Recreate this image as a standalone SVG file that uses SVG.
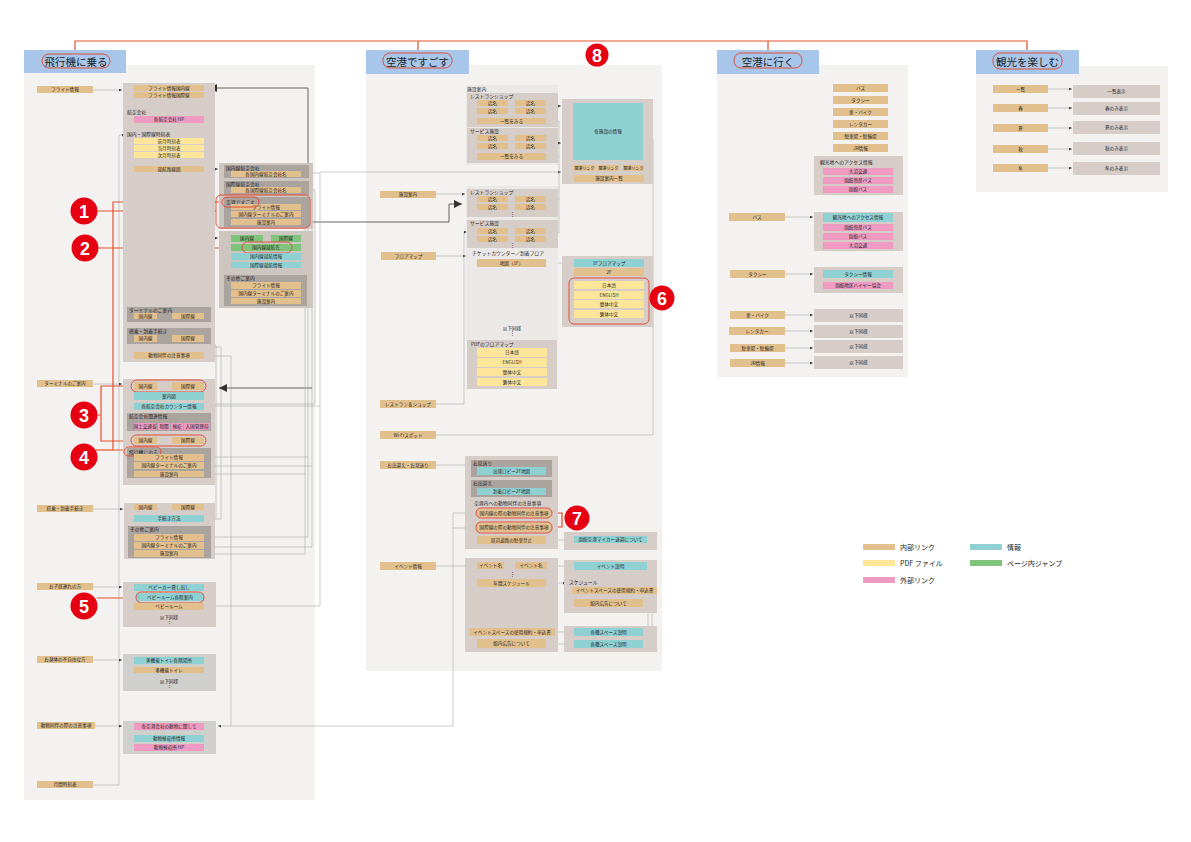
<svg xmlns="http://www.w3.org/2000/svg" width="1191" height="842" viewBox="0 0 1191 842">
<style>
.t{fill:#e2c08d}.c{fill:#8fd0d3}.y{fill:#fde69a}.p{fill:#ee9ac1}.g{fill:#7fc47a}
.b{fill:#d6cdc9}.d{fill:#aba39e}.s{fill:#cdc5c0}.gr{fill:#cfcfcc}.lt{fill:#ebe9e7}.pn{fill:#f3f2f1}.hd{fill:#a8c6e9}
text{font-family:"Noto Sans CJK JP","Noto Sans",sans-serif;fill:#222}
.x{font-size:4.6px;text-anchor:middle}
.l{font-size:4.8px}
.h{font-size:10.5px;text-anchor:middle}
.lg{font-size:7px}
.rc{fill:none;stroke:#e3412b;stroke-width:0.9}
.ln{fill:none;stroke:#a9a9a9;stroke-width:0.6}
.dk{fill:none;stroke:#555;stroke-width:0.9}
.or{fill:none;stroke:#e4502e;stroke-width:1.2}
.nc{fill:#e50012}
.nt{fill:#fff;font-family:"Liberation Sans",sans-serif;font-weight:bold;font-size:18px;text-anchor:middle}
</style>
<defs>
<marker id="a" viewBox="0 0 6 6" refX="6" refY="3" markerWidth="3" markerHeight="3" markerUnits="userSpaceOnUse" orient="auto"><path d="M0,0 L6,3 L0,6 z" fill="#444"/></marker>
<marker id="A" viewBox="0 0 6 6" refX="6" refY="3" markerWidth="8" markerHeight="8" markerUnits="userSpaceOnUse" orient="auto"><path d="M0,0 L6,3 L0,6 z" fill="#333"/></marker>
</defs>
<rect width="1191" height="842" fill="#fff"/>

<!-- panels -->
<rect class="pn" x="24" y="65" width="291" height="735"/>
<rect class="pn" x="366" y="65" width="296" height="606"/>
<rect class="pn" x="717" y="65" width="191" height="312"/>
<rect class="pn" x="976" y="66" width="192" height="126"/>

<!-- top orange hierarchy -->
<path class="or" d="M75 50 V41 H1027 V50 M418 41 V50 M768 41 V50"/>

<!-- headers -->
<g id="h1"><rect class="hd" x="24" y="50" width="102" height="23"/><text class="h" x="76" y="65.5">飛行機に乗る</text><rect class="rc" x="42" y="54" width="68" height="14" rx="7"/></g>
<g id="h2"><rect class="hd" x="366" y="50" width="103" height="24"/><text class="h" x="417.5" y="65.5">空港ですごす</text><rect class="rc" x="383" y="53" width="69" height="15" rx="7"/></g>
<g id="h3"><rect class="hd" x="717" y="50" width="102" height="24"/><text class="h" x="768" y="65.5">空港に行く</text><rect class="rc" x="734" y="53" width="68" height="15" rx="7"/></g>
<g id="h4"><rect class="hd" x="976" y="50" width="103" height="24"/><text class="h" x="1027.5" y="65.5">観光を楽しむ</text><rect class="rc" x="993" y="53" width="69" height="16" rx="7"/></g>

<!-- connectors -->
<g id="connectors">
<path class="ln" d="M93 90 H122" marker-end="url(#a)"/>
<path class="ln" d="M93 785 H119 V135 H125" marker-end="url(#a)"/>
<path class="ln" d="M93 384 H122" marker-end="url(#a)"/>
<path class="ln" d="M93 509 H123" marker-end="url(#a)"/>
<path class="ln" d="M93 587 H122" marker-end="url(#a)"/>
<path class="ln" d="M93 660 H122" marker-end="url(#a)"/>
<path class="ln" d="M95 726 H122" marker-end="url(#a)"/>
<path class="ln" d="M204 169 H218" marker-end="url(#a)"/>
<path class="ln" d="M204 238 H218" marker-end="url(#a)"/>
<path class="ln" d="M150 342 V347 H221 V519 H206" marker-end="url(#a)"/>
<path class="ln" d="M186 342 V345 H216 V519"/>
<path class="ln" d="M145 510 V514 M188 510 V514"/>
<path class="ln" d="M204 356 H231 V726"/>
<path class="ln" d="M477 513 H453 V726 H218" marker-end="url(#a)"/>
<path class="ln" d="M453 528 H477"/>
<path class="ln" d="M308 207 V537 M204 457 H308 M204 537 H308 M301 285 H308"/>
<path class="dk" d="M301 207 H308 V88 H209" marker-end="url(#A)"/>
<path class="ln" d="M301 214 H312 V547 M301 293 H312 M204 466 H312 M204 547 H312"/>
<path class="dk" d="M312 388 H219" marker-end="url(#A)"/>
<path class="ln" d="M305 222 V554 M301 301 H305 M204 474 H305 M204 554 H305"/>
<path class="dk" d="M301 222 H449 V204 H462" marker-end="url(#A)"/>
<path class="ln" d="M301 173 H320 V606 H204 M301 190 H315 V404 H204 M204 406 H320"/>
<path class="ln" d="M320 172 H559"/>
<path class="ln" d="M559 172 H561" marker-end="url(#a)"/>
<path class="ln" d="M546 121 H559 V233 H546 M546 157 H559 M546 199 H559"/>
<path class="ln" d="M546 106 H561" marker-end="url(#a)"/>
<path class="ln" d="M546 143 H561" marker-end="url(#a)"/>
<path class="ln" d="M436 194 H465" marker-end="url(#a)"/>
<path class="ln" d="M436 256 H466" marker-end="url(#a)"/>
<path class="ln" d="M436 404 H464 V232 H467" marker-end="url(#a)"/>
<path class="ln" d="M546 263 H572" marker-end="url(#a)"/>
<path class="ln" d="M436 435 H653 V139 H645" marker-end="url(#a)"/>
<path class="ln" d="M436 465 H469" marker-end="url(#a)"/>
<path class="ln" d="M436 566 H469" marker-end="url(#a)"/>
<path class="ln" d="M547 566 H572" marker-end="url(#a)"/>
<path class="ln" d="M546 583 H566" marker-end="url(#a)"/>
<path class="ln" d="M555 632 H572" marker-end="url(#a)"/>
<path class="ln" d="M546 644 H572" marker-end="url(#a)"/>
<path class="ln" d="M546 540 H573" marker-end="url(#a)"/>
<path class="ln" d="M652 594 V632 H645" marker-end="url(#a)"/>
<path class="ln" d="M643 603 H648 V644 H645" marker-end="url(#a)"/>
<path class="ln" d="M785 217 H813" marker-end="url(#a)"/>
<path class="ln" d="M785 274 H813" marker-end="url(#a)"/>
<path class="ln" d="M785 315 H813" marker-end="url(#a)"/>
<path class="ln" d="M785 331 H813" marker-end="url(#a)"/>
<path class="ln" d="M785 348 H813" marker-end="url(#a)"/>
<path class="ln" d="M785 363 H813" marker-end="url(#a)"/>
<path class="ln" d="M1048 89 H1072" marker-end="url(#a)"/>
<path class="ln" d="M1048 108 H1072" marker-end="url(#a)"/>
<path class="ln" d="M1048 128 H1072" marker-end="url(#a)"/>
<path class="ln" d="M1048 149 H1072" marker-end="url(#a)"/>
<path class="ln" d="M1048 168 H1072" marker-end="url(#a)"/>
<!-- red annotation lines -->
<path class="or" d="M97 211 H216"/>
<path class="or" d="M222 202 H113 V450 H124"/>
<path class="or" d="M98 248 H242"/>
<path class="or" d="M97 415 H101 M131 386 H101 V441 H131"/>
<path class="or" d="M96 450 H113"/>
<path class="or" d="M97 598 H136"/>
<path class="or" d="M552 513 H562 V527 H552" style="stroke:#e3412b"/>
</g>

<!-- LEFT COLUMN -->
<g id="l-labels">
<rect class="t" x="37" y="86" width="56" height="7"/><text class="x" x="65" y="91.3">フライト情報</text>
<rect class="t" x="37" y="380" width="56" height="7"/><text class="x" x="65" y="385.3">ターミナルのご案内</text>
<rect class="t" x="37" y="505" width="56" height="7"/><text class="x" x="65" y="510.3">搭乗・到着手続き</text>
<rect class="t" x="37" y="583" width="56" height="7"/><text class="x" x="65" y="588.3">お子様連れの方</text>
<rect class="t" x="37" y="656" width="56" height="7"/><text class="x" x="65" y="661.3">お身体の不自由な方</text>
<rect class="t" x="37" y="722" width="58" height="7"/><text class="x" x="66" y="727.3">動物同伴の際の注意事項</text>
<rect class="t" x="37" y="781" width="56" height="7"/><text class="x" x="65" y="786.3">月間時刻表</text>
</g>

<g id="box1">
<rect class="b" x="123" y="83" width="92" height="279"/>
<rect class="t" x="134" y="85" width="70" height="6"/><text class="x" x="169" y="89.8">フライト情報国内線</text>
<rect class="t" x="134" y="92" width="70" height="6"/><text class="x" x="169" y="96.8">フライト情報国際線</text>
<text class="l" x="127" y="114">航空会社</text>
<rect class="p" x="134" y="116" width="70" height="7"/><text class="x" x="169" y="121.3">各航空会社 HP</text>
<text class="l" x="127" y="135.5">国内・国際線時刻表</text>
<rect class="y" x="134" y="138" width="70" height="6"/><text class="x" x="169" y="142.8">前月時刻表</text>
<rect class="y" x="134" y="145" width="70" height="6"/><text class="x" x="169" y="149.8">当月時刻表</text>
<rect class="y" x="134" y="152" width="70" height="6"/><text class="x" x="169" y="156.8">次月時刻表</text>
<rect class="t" x="134" y="166" width="70" height="6"/><text class="x" x="169" y="170.8">就航路線図</text>
<rect class="d" x="127" y="307" width="84" height="15"/><text class="l" x="129" y="312">ターミナルのご案内</text>
<rect class="t" x="134" y="313" width="23" height="6"/><text class="x" x="145.5" y="317.8">国内線</text>
<rect class="t" x="172" y="313" width="32" height="6"/><text class="x" x="188" y="317.8">国際線</text>
<rect class="d" x="127" y="328" width="84" height="16"/><text class="l" x="129" y="333">搭乗・到着手続き</text>
<rect class="t" x="134" y="335" width="23" height="7"/><text class="x" x="145.5" y="340.3">国内線</text>
<rect class="t" x="172" y="335" width="32" height="7"/><text class="x" x="188" y="340.3">国際線</text>
<rect class="t" x="134" y="352" width="70" height="7"/><text class="x" x="169" y="357.3">動物同伴の注意事項</text>
</g>

<g id="subA">
<rect class="s" x="219" y="163" width="94" height="66"/>
<rect class="d" x="224" y="165" width="85" height="13"/><text class="l" x="226" y="169.8">国内線航空会社</text>
<rect class="t" x="231" y="171" width="70" height="6"/><text class="x" x="266" y="175.8">各国内線航空会社名</text>
<rect class="d" x="224" y="181" width="85" height="14"/><text class="l" x="226" y="185.8">国際線航空会社</text>
<rect class="t" x="231" y="187" width="70" height="6"/><text class="x" x="266" y="191.8">各国際線航空会社名</text>
<rect class="d" x="224" y="197" width="85" height="30"/><text class="l" x="226" y="203.5">空港ですごす</text>
<rect class="t" x="231" y="204" width="70" height="6"/><text class="x" x="266" y="208.8">フライト情報</text>
<rect class="t" x="231" y="211" width="70" height="6"/><text class="x" x="266" y="215.8">国内線ターミナルのご案内</text>
<rect class="t" x="231" y="219" width="70" height="6"/><text class="x" x="266" y="223.8">施設案内</text>
<rect class="rc" x="216" y="195" width="94" height="33" rx="5"/>
<rect class="rc" x="222" y="197" width="37" height="10" rx="5"/>
</g>

<g id="subB">
<rect class="s" x="219" y="231" width="94" height="77"/>
<rect class="g" x="231" y="235" width="32" height="7"/><text class="x" x="247" y="240.3">国内線</text>
<rect class="g" x="271" y="235" width="30" height="7"/><text class="x" x="286" y="240.3">国際線</text>
<rect class="g" x="231" y="244" width="70" height="7"/><text class="x" x="266" y="249.3">国内線就航先</text>
<rect class="rc" x="242" y="242" width="50" height="11" rx="5.5"/>
<rect class="c" x="231" y="253" width="70" height="7"/><text class="x" x="266" y="258.3">国内線就航情報</text>
<rect class="c" x="231" y="262" width="70" height="6"/><text class="x" x="266" y="266.8">国際線就航情報</text>
<rect class="d" x="224" y="275" width="83" height="31"/><text class="l" x="226" y="280">その他ご案内</text>
<rect class="t" x="231" y="282" width="70" height="7"/><text class="x" x="266" y="287.3">フライト情報</text>
<rect class="t" x="231" y="290" width="70" height="7"/><text class="x" x="266" y="295.3">国内線ターミナルのご案内</text>
<rect class="t" x="231" y="298" width="70" height="6"/><text class="x" x="266" y="302.8">施設案内</text>
</g>

<g id="box2">
<rect class="b" x="123" y="379" width="92" height="106"/>
<rect class="t" x="134" y="382" width="23" height="8"/><text class="x" x="145.5" y="387.8">国内線</text>
<rect class="t" x="172" y="382" width="32" height="8"/><text class="x" x="188" y="387.8">国際線</text>
<rect class="rc" x="131" y="380" width="75" height="12" rx="6"/>
<rect class="c" x="134" y="392" width="70" height="8"/><text class="x" x="169" y="397.8">案内図</text>
<rect class="c" x="134" y="403" width="70" height="7"/><text class="x" x="169" y="408.3">各航空会社カウンター情報</text>
<rect class="d" x="127" y="413" width="84" height="18"/><text class="l" x="129" y="418">航空会社関連情報</text>
<rect class="p" x="134" y="423" width="22" height="7"/><text class="x" x="145" y="428.3">国土交通省</text>
<rect class="p" x="158" y="423" width="12" height="7"/><text class="x" x="164" y="428.3">税関</text>
<rect class="p" x="171" y="423" width="12" height="7"/><text class="x" x="177" y="428.3">検疫</text>
<rect class="p" x="184" y="423" width="26" height="7"/><text class="x" x="197" y="428.3">入国管理局</text>
<rect class="t" x="134" y="437" width="23" height="7"/><text class="x" x="145.5" y="442.3">国内線</text>
<rect class="t" x="172" y="437" width="32" height="7"/><text class="x" x="188" y="442.3">国際線</text>
<rect class="rc" x="131" y="435" width="75" height="11" rx="5.5"/>
<rect class="d" x="127" y="448" width="84" height="30"/><text class="l" x="129" y="453.5">飛行機にのる</text>
<rect class="rc" x="124" y="447" width="37" height="9" rx="4.5"/>
<rect class="t" x="134" y="454" width="70" height="7"/><text class="x" x="169" y="459.3">フライト情報</text>
<rect class="t" x="134" y="462" width="70" height="7"/><text class="x" x="169" y="467.3">国内線ターミナルのご案内</text>
<rect class="t" x="134" y="471" width="70" height="6"/><text class="x" x="169" y="475.8">施設案内</text>
</g>

<g id="box3">
<rect class="b" x="124" y="503" width="91" height="56"/>
<rect class="t" x="134" y="504" width="23" height="6"/><text class="x" x="145.5" y="508.8">国内線</text>
<rect class="t" x="172" y="504" width="32" height="6"/><text class="x" x="188" y="508.8">国際線</text>
<rect class="c" x="134" y="515" width="70" height="7"/><text class="x" x="169" y="520.3">手続き方法</text>
<rect class="d" x="128" y="526" width="83" height="32"/><text class="l" x="130" y="530.5">その他ご案内</text>
<rect class="t" x="134" y="534" width="70" height="7"/><text class="x" x="169" y="539.3">フライト情報</text>
<rect class="t" x="134" y="542" width="70" height="7"/><text class="x" x="169" y="547.3">国内線ターミナルのご案内</text>
<rect class="t" x="134" y="550" width="70" height="7"/><text class="x" x="169" y="555.3">施設案内</text>
</g>

<g id="box4">
<rect class="b" x="123" y="582" width="93" height="45"/>
<rect class="c" x="134" y="584" width="70" height="7"/><text class="x" x="169" y="589.3">ベビーカー貸し出し</text>
<rect class="c" x="136" y="593" width="68" height="8"/><text class="x" x="170" y="598.8">ベビールーム各階案内</text>
<rect class="rc" x="136" y="592" width="68" height="11" rx="5.5"/>
<rect class="t" x="134" y="603" width="70" height="7"/><text class="x" x="169" y="608.3">ベビールーム</text>
<text class="x" x="169" y="618.5">以下同様</text><text class="x" x="169" y="623">⋮</text>
</g>

<g id="box5">
<rect class="gr" x="123" y="654" width="93" height="37"/>
<rect class="c" x="134" y="657" width="70" height="7"/><text class="x" x="169" y="662.3">多機能トイレ各階場所</text>
<rect class="t" x="134" y="667" width="70" height="6"/><text class="x" x="169" y="671.8">多機能トイレ</text>
<text class="x" x="169" y="682.5">以下同様</text><text class="x" x="169" y="687">⋮</text>
</g>

<g id="box6">
<rect class="gr" x="123" y="721" width="93" height="33"/>
<rect class="p" x="134" y="723" width="70" height="7"/><text class="x" x="169" y="728.3">各空港会社の動物に関して</text>
<rect class="c" x="134" y="735" width="70" height="7"/><text class="x" x="169" y="740.3">動物検疫所情報</text>
<rect class="p" x="134" y="744" width="70" height="7"/><text class="x" x="169" y="749.3">動物検疫所 HP</text>
</g>

<!-- MIDDLE COLUMN -->
<g id="m-labels">
<rect class="t" x="380" y="191" width="56" height="7"/><text class="x" x="408" y="196.3">施設案内</text>
<rect class="t" x="381" y="252" width="55" height="8"/><text class="x" x="408.5" y="257.8">フロアマップ</text>
<rect class="t" x="380" y="400" width="56" height="8"/><text class="x" x="408" y="405.8">レストラン＆ショップ</text>
<rect class="t" x="380" y="431" width="56" height="8"/><text class="x" x="408" y="436.8">Wi-Fiスポット</text>
<rect class="t" x="380" y="461" width="56" height="8"/><text class="x" x="408" y="466.8">お出迎え・お見送り</text>
<rect class="t" x="380" y="562" width="56" height="8"/><text class="x" x="408" y="567.8">イベント情報</text>
</g>

<g id="facility">
<rect class="lt" x="466" y="85" width="92" height="80"/>
<text class="l" x="467" y="90.5">施設案内</text>
<rect class="b" x="467" y="93" width="91" height="34"/><text class="l" x="470" y="98">レストランショップ</text>
<rect class="t" x="477" y="100" width="31" height="6"/><text class="x" x="492.5" y="104.8">店名</text>
<rect class="t" x="515" y="100" width="31" height="6"/><text class="x" x="530.5" y="104.8">店名</text>
<rect class="t" x="477" y="108" width="31" height="6"/><text class="x" x="492.5" y="112.8">店名</text>
<rect class="t" x="515" y="108" width="31" height="6"/><text class="x" x="530.5" y="112.8">店名</text>
<rect class="t" x="477" y="118" width="69" height="6"/><text class="x" x="511.5" y="122.8">一覧をみる</text>
<rect class="b" x="467" y="128" width="91" height="35"/><text class="l" x="470" y="133">サービス施設</text>
<rect class="t" x="477" y="135" width="31" height="6"/><text class="x" x="492.5" y="139.8">店名</text>
<rect class="t" x="515" y="135" width="31" height="6"/><text class="x" x="530.5" y="139.8">店名</text>
<rect class="t" x="477" y="143" width="31" height="6"/><text class="x" x="492.5" y="147.8">店名</text>
<rect class="t" x="515" y="143" width="31" height="6"/><text class="x" x="530.5" y="147.8">店名</text>
<rect class="t" x="477" y="153" width="69" height="7"/><text class="x" x="511.5" y="158.3">一覧をみる</text>
</g>

<g id="facility-info">
<rect class="b" x="562" y="99" width="91" height="85"/>
<rect class="c" x="573" y="103" width="70" height="57"/><text class="x" x="608" y="133">各施設の情報</text>
<rect class="t" x="574" y="165" width="21" height="6"/><text class="x" x="584.5" y="169.6" style="font-size:4px">関連リンク</text>
<rect class="t" x="598" y="165" width="21" height="6"/><text class="x" x="608.5" y="169.6" style="font-size:4px">関連リンク</text>
<rect class="t" x="623" y="165" width="21" height="6"/><text class="x" x="633.5" y="169.6" style="font-size:4px">関連リンク</text>
<rect class="t" x="574" y="175" width="70" height="7"/><text class="x" x="609" y="180.3">施設案内一覧</text>
</g>

<g id="facility2">
<rect class="lt" x="466" y="186" width="92" height="155"/>
<rect class="b" x="467" y="189" width="91" height="28"/><text class="l" x="470" y="194">レストランショップ</text>
<rect class="t" x="477" y="196" width="31" height="6"/><text class="x" x="492.5" y="200.8">店名</text>
<rect class="t" x="515" y="196" width="31" height="6"/><text class="x" x="530.5" y="200.8">店名</text>
<rect class="t" x="477" y="204" width="31" height="6"/><text class="x" x="492.5" y="208.8">店名</text>
<rect class="t" x="515" y="204" width="31" height="6"/><text class="x" x="530.5" y="208.8">店名</text>
<text class="x" x="512" y="215.5">⋮</text>
<rect class="b" x="467" y="220" width="91" height="28"/><text class="l" x="470" y="225">サービス施設</text>
<rect class="t" x="477" y="228" width="31" height="6"/><text class="x" x="492.5" y="232.8">店名</text>
<rect class="t" x="515" y="228" width="31" height="6"/><text class="x" x="530.5" y="232.8">店名</text>
<rect class="t" x="477" y="236" width="31" height="6"/><text class="x" x="492.5" y="240.8">店名</text>
<rect class="t" x="515" y="236" width="31" height="6"/><text class="x" x="530.5" y="240.8">店名</text>
<text class="x" x="512" y="247">⋮</text>
<text class="l" x="472" y="255">チケットカウンター／到着フロア</text>
<rect class="t" x="477" y="259" width="69" height="8"/><text class="x" x="511.5" y="264.8">地図（1F）</text>
<text class="x" x="512" y="329.5">以下同様</text><text class="x" x="512" y="334.5">⋮</text>
</g>

<g id="pdfmap">
<rect class="b" x="467" y="340" width="90" height="49"/>
<text class="l" x="471" y="345.5">PDFのフロアマップ</text>
<rect class="y" x="477" y="348" width="70" height="9"/><text class="x" x="512" y="354.3">日本語</text>
<rect class="y" x="477" y="358" width="70" height="9"/><text class="x" x="512" y="364.3">ENGLISH</text>
<rect class="y" x="477" y="368" width="70" height="8"/><text class="x" x="512" y="373.8">簡体中文</text>
<rect class="y" x="477" y="378" width="70" height="8"/><text class="x" x="512" y="383.8">繁体中文</text>
</g>

<g id="floormap">
<rect class="b" x="562" y="256" width="91" height="71"/>
<rect class="c" x="574" y="259" width="70" height="8"/><text class="x" x="609" y="264.8">1Fフロアマップ</text>
<rect class="t" x="574" y="268" width="70" height="8"/><text class="x" x="609" y="273.8">2F</text>
<rect class="y" x="574" y="281" width="70" height="8"/><text class="x" x="609" y="286.8">日本語</text>
<rect class="y" x="574" y="291" width="70" height="8"/><text class="x" x="609" y="296.8">ENGLISH</text>
<rect class="y" x="574" y="300" width="70" height="8"/><text class="x" x="609" y="305.8">簡体中文</text>
<rect class="y" x="574" y="310" width="70" height="8"/><text class="x" x="609" y="315.8">繁体中文</text>
<rect class="rc" x="569" y="278" width="80" height="46" rx="5"/>
</g>

<g id="welcome">
<rect class="b" x="465" y="456" width="93" height="93"/>
<rect class="d" x="471" y="460" width="81" height="17"/><text class="l" x="473" y="465">お見送り</text>
<rect class="c" x="477" y="467" width="69" height="8"/><text class="x" x="511.5" y="472.8">出発ロビー2F地図</text>
<rect class="d" x="471" y="480" width="81" height="17"/><text class="l" x="473" y="485">お出迎え</text>
<rect class="c" x="477" y="488" width="69" height="7"/><text class="x" x="511.5" y="493.3">到着ロビー2F地図</text>
<text class="l" x="474" y="504.5">空港内への動物同伴の注意事項</text>
<rect class="t" x="477" y="509" width="74" height="8"/><text class="x" x="514" y="514.8">国内線の際の動物同伴の注意事項</text>
<rect class="rc" x="476" y="508" width="76" height="10" rx="5"/>
<rect class="t" x="477" y="523" width="74" height="9"/><text class="x" x="514" y="529.3">国際線の際の動物同伴の注意事項</text>
<rect class="rc" x="476" y="522" width="76" height="11" rx="5"/>
<rect class="t" x="477" y="536" width="69" height="8"/><text class="x" x="511.5" y="541.8">周辺道路の駐車禁止</text>
</g>
<g id="mycar">
<rect class="b" x="564" y="532" width="93" height="18"/>
<rect class="c" x="574" y="536" width="73" height="7"/><text class="x" x="610.5" y="541.3">函館空港マイカー送迎について</text>
</g>

<g id="event">
<rect class="b" x="465" y="558" width="93" height="94"/>
<rect class="t" x="477" y="562" width="27" height="7"/><text class="x" x="490.5" y="567.3">イベント名</text>
<rect class="t" x="515" y="562" width="32" height="7"/><text class="x" x="531" y="567.3">イベント名</text>
<text class="x" x="512" y="576">⋮</text>
<rect class="t" x="477" y="579" width="69" height="8"/><text class="x" x="511.5" y="584.8">年間スケジュール</text>
<rect class="t" x="469" y="628" width="86" height="8"/><text class="x" x="512" y="633.8">イベントスペースの使用規約・申込書</text>
<rect class="t" x="477" y="639" width="69" height="9"/><text class="x" x="511.5" y="645.3">館内広告について</text>
</g>
<g id="event-info">
<rect class="b" x="564" y="560" width="93" height="53"/>
<rect class="c" x="574" y="562" width="73" height="8"/><text class="x" x="610.5" y="567.8">イベント説明</text>
<text class="l" x="569" y="584">スケジュール</text>
<rect class="t" x="572" y="587" width="85" height="7"/><text class="x" x="614.5" y="592.3">イベントスペースの使用規約・申込書</text>
<rect class="t" x="574" y="599" width="69" height="8"/><text class="x" x="608.5" y="604.8">館内広告について</text>
</g>
<g id="space-info">
<rect class="b" x="564" y="626" width="93" height="26"/>
<rect class="c" x="574" y="628" width="69" height="8"/><text class="x" x="608.5" y="633.8">各種スペース説明</text>
<rect class="c" x="574" y="640" width="69" height="8"/><text class="x" x="608.5" y="645.8">各種スペース説明</text>
</g>

<!-- RIGHT COLUMN -->
<g id="access-list">
<rect class="t" x="833" y="84" width="55" height="8"/><text class="x" x="860.5" y="89.8">バス</text>
<rect class="t" x="833" y="96" width="55" height="8"/><text class="x" x="860.5" y="101.8">タクシー</text>
<rect class="t" x="833" y="108" width="55" height="8"/><text class="x" x="860.5" y="113.8">車・バイク</text>
<rect class="t" x="833" y="120" width="55" height="8"/><text class="x" x="860.5" y="125.8">レンタカー</text>
<rect class="t" x="833" y="132" width="55" height="8"/><text class="x" x="860.5" y="137.8">駐車場・駐輪場</text>
<rect class="t" x="833" y="144" width="55" height="8"/><text class="x" x="860.5" y="149.8">JR情報</text>
</g>
<g id="access-info">
<rect class="b" x="814" y="156" width="89" height="39"/>
<text class="l" x="820" y="163.5">観光地へのアクセス情報</text>
<rect class="p" x="823" y="168" width="70" height="7"/><text class="x" x="858" y="173.3">大沼交通</text>
<rect class="p" x="823" y="177" width="70" height="7"/><text class="x" x="858" y="182.3">函館帝産バス</text>
<rect class="p" x="823" y="186" width="70" height="7"/><text class="x" x="858" y="191.3">函館バス</text>
</g>
<g id="r-labels">
<rect class="t" x="729" y="213" width="56" height="8"/><text class="x" x="757" y="218.8">バス</text>
<rect class="t" x="730" y="270" width="55" height="8"/><text class="x" x="757.5" y="275.8">タクシー</text>
<rect class="t" x="730" y="311" width="55" height="8"/><text class="x" x="757.5" y="316.8">車・バイク</text>
<rect class="t" x="729" y="327" width="56" height="8"/><text class="x" x="757" y="332.8">レンタカー</text>
<rect class="t" x="730" y="344" width="55" height="8"/><text class="x" x="757.5" y="349.8">駐車場・駐輪場</text>
<rect class="t" x="730" y="359" width="55" height="8"/><text class="x" x="757.5" y="364.8">JR情報</text>
</g>
<g id="bus">
<rect class="b" x="814" y="212" width="89" height="39"/>
<rect class="c" x="823" y="213" width="70" height="9"/><text class="x" x="858" y="219.3">観光地へのアクセス情報</text>
<rect class="p" x="823" y="224" width="70" height="7"/><text class="x" x="858" y="229.3">函館帝産バス</text>
<rect class="p" x="823" y="233" width="70" height="7"/><text class="x" x="858" y="238.3">函館バス</text>
<rect class="p" x="823" y="242" width="70" height="7"/><text class="x" x="858" y="247.3">大沼交通</text>
</g>
<g id="taxi">
<rect class="b" x="814" y="267" width="89" height="26"/>
<rect class="c" x="823" y="270" width="70" height="8"/><text class="x" x="858" y="275.8">タクシー情報</text>
<rect class="p" x="823" y="282" width="70" height="7"/><text class="x" x="858" y="287.3">函館地区ハイヤー協会</text>
</g>
<g id="same1"><rect class="b" x="814" y="309" width="89" height="13"/><text class="x" x="858.5" y="317.2">以下同様</text></g>
<g id="same2"><rect class="b" x="814" y="325" width="89" height="13"/><text class="x" x="858.5" y="333.2">以下同様</text></g>
<g id="same3"><rect class="b" x="814" y="340" width="89" height="13"/><text class="x" x="858.5" y="348.2">以下同様</text></g>
<g id="same4"><rect class="b" x="814" y="356" width="89" height="13"/><text class="x" x="858.5" y="364.2">以下同様</text></g>

<!-- FAR RIGHT -->
<g id="season">
<rect class="t" x="993" y="85" width="55" height="8"/><text class="x" x="1020.5" y="90.8">一覧</text>
<rect class="b" x="1073" y="85" width="87" height="13"/><text class="x" x="1116.5" y="93.2">一覧表示</text>
<rect class="t" x="993" y="104" width="55" height="8"/><text class="x" x="1020.5" y="109.8">春</text>
<rect class="b" x="1073" y="102" width="87" height="13"/><text class="x" x="1116.5" y="110.2">春のみ表示</text>
<rect class="t" x="993" y="124" width="55" height="8"/><text class="x" x="1020.5" y="129.8">夏</text>
<rect class="b" x="1073" y="121" width="87" height="13"/><text class="x" x="1116.5" y="129.2">夏のみ表示</text>
<rect class="t" x="993" y="145" width="55" height="8"/><text class="x" x="1020.5" y="150.8">秋</text>
<rect class="b" x="1073" y="142" width="87" height="13"/><text class="x" x="1116.5" y="150.2">秋のみ表示</text>
<rect class="t" x="993" y="164" width="55" height="8"/><text class="x" x="1020.5" y="169.8">冬</text>
<rect class="b" x="1073" y="162" width="87" height="13"/><text class="x" x="1116.5" y="170.2">冬のみ表示</text>
</g>

<!-- numbered markers -->
<g id="n1"><circle class="nc" cx="84" cy="211" r="13.5"/><text class="nt" x="84" y="217.5">1</text></g>
<g id="n2"><circle class="nc" cx="85" cy="248" r="13.5"/><text class="nt" x="85" y="254.5">2</text></g>
<g id="n3"><circle class="nc" cx="84" cy="415" r="13.5"/><text class="nt" x="84" y="421.5">3</text></g>
<g id="n4"><circle class="nc" cx="84" cy="457" r="13.5"/><text class="nt" x="84" y="463.5">4</text></g>
<g id="n5"><circle class="nc" cx="84" cy="606" r="13.5"/><text class="nt" x="84" y="612.5">5</text></g>
<g id="n6"><circle class="nc" cx="662" cy="298" r="12.5"/><text class="nt" x="662" y="304.5">6</text></g>
<g id="n7"><circle class="nc" cx="577" cy="518" r="12.5"/><text class="nt" x="577" y="524.5">7</text></g>
<g id="n8"><circle class="nc" cx="597" cy="55" r="11.5"/><text class="nt" x="597" y="61.5">8</text></g>

<!-- legend -->
<g id="legend">
<rect class="t" x="863" y="544" width="32" height="6"/><text class="lg" x="900" y="550">内部リンク</text>
<rect class="y" x="863" y="560" width="32" height="6"/><text class="lg" x="900" y="566">PDF ファイル</text>
<rect class="p" x="863" y="577" width="32" height="6"/><text class="lg" x="900" y="583">外部リンク</text>
<rect class="c" x="970" y="544" width="32" height="6"/><text class="lg" x="1007" y="550">情報</text>
<rect class="g" x="970" y="560" width="32" height="6"/><text class="lg" x="1007" y="566">ページ内ジャンプ</text>
</g>
</svg>
